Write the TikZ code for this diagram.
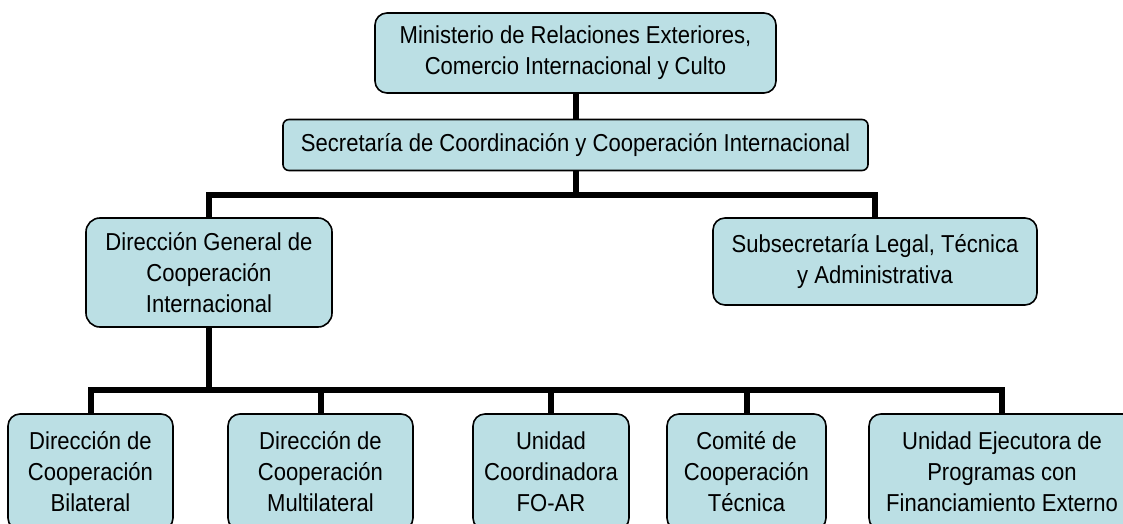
\documentclass[tikz,border=0pt]{standalone}
\usepackage{fontspec}
\setmainfont{Liberation Sans}[FakeStretch=0.9]
\definecolor{cajas}{RGB}{187,223,228}

\begin{document}
\begin{tikzpicture}[x=1pt, y=-1pt,
        caja/.style={draw=black, line width=1.6pt, fill=cajas, rounded corners=12pt,
            align=center, inner sep=0pt, font=\fontsize{24.5}{31}\selectfont},
        enlace/.style={black, line width=6pt}]
            \useasboundingbox (0,0) rectangle (1123,524);
            \clip (0,0) rectangle (1123,524);

            \node[caja, minimum width=401pt, minimum height=80pt] (min) at (575.5,53)
                {Ministerio de Relaciones Exteriores,\\Comercio Internacional y Culto};
            \node[caja, rounded corners=6pt, minimum width=585pt, minimum height=51pt] (sec) at (575.5,145)
                {Secretaría de Coordinación y Cooperación Internacional};
            \node[caja, rounded corners=14pt, minimum width=246pt, minimum height=109pt] (dg) at (209,272.5)
                {Dirección General de\\Cooperación\\Internacional};
            \node[caja, minimum width=324pt, minimum height=87pt] (sub) at (875,261.5)
                {Subsecretaría Legal, Técnica\\y Administrativa};

            \node[caja, minimum width=165pt, minimum height=116pt] (bil) at (90.5,472)
                {Dirección de\\Cooperación\\Bilateral};
            \node[caja, minimum width=185pt, minimum height=116pt] (mul) at (320.5,472)
                {Dirección de\\Cooperación\\Multilateral};
            \node[caja, minimum width=156pt, minimum height=116pt] (foar) at (551,472)
                {Unidad\\Coordinadora\\FO-AR};
            \node[caja, minimum width=159pt, minimum height=116pt] (com) at (746.5,472)
                {Comité de\\Cooperación\\Técnica};
            \node[caja, minimum width=266pt, minimum height=116pt] (uep) at (1002,472)
                {Unidad Ejecutora de\\Programas con\\Financiamiento Externo};

            \coordinate (j1) at (575.5,195);
            \coordinate (j2) at (209,390);

            \draw[enlace] (min) -- (sec);
            \draw[enlace] (sec) -- (j1);
            \draw[enlace] (dg.north) |- (j1) -| (sub.north);
            \draw[enlace] (dg) -- (j2);
            \draw[enlace] (bil.north) |- (j2) -| (uep.north);
            \draw[enlace] (mul.north) -- (mul.north |- j2);
            \draw[enlace] (foar.north) -- (foar.north |- j2);
            \draw[enlace] (com.north) -- (com.north |- j2);
        \end{tikzpicture}
\end{document}
